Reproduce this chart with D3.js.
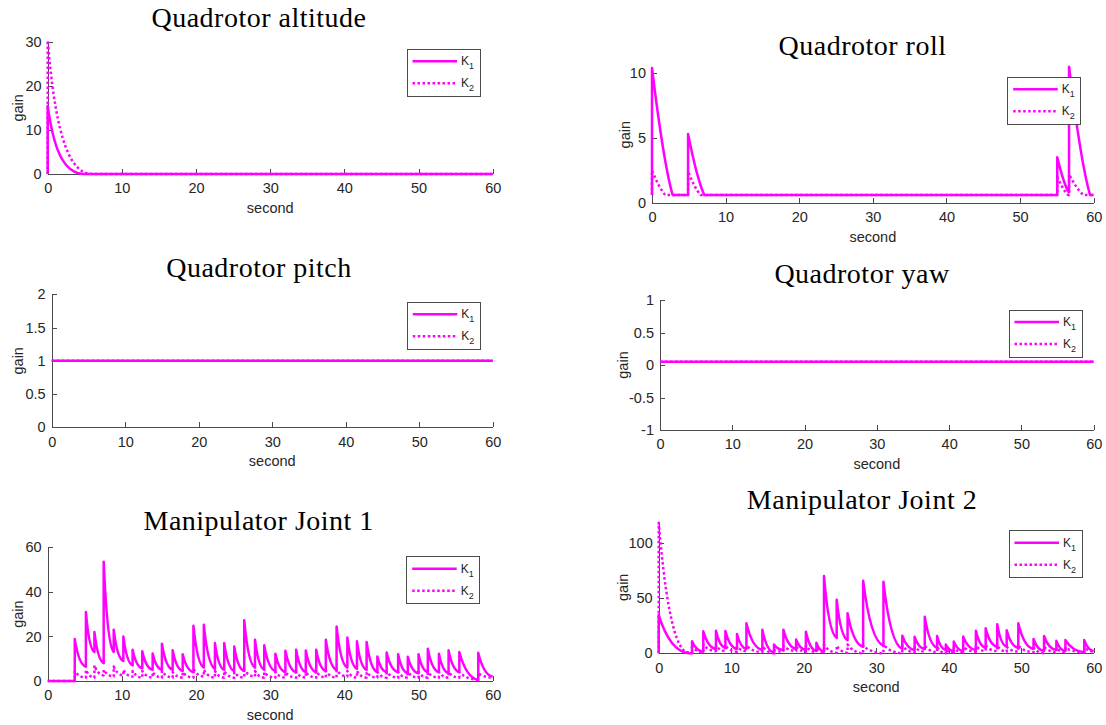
<!DOCTYPE html>
<html>
<head>
<meta charset="utf-8">
<script src="https://cdn.jsdelivr.net/npm/d3@7"></script>
<style>
  body { margin: 0; background: #fff; }
  svg { display: block; }
  .axis path, .axis line { stroke: #4a4a4a; stroke-width: 1; shape-rendering: crispEdges; }
  .axis text { font-family: "Liberation Sans", Arial, sans-serif; font-size: 14.5px; fill: #262626; }
  .lbl { font-family: "Liberation Sans", Arial, sans-serif; font-size: 14.5px; fill: #262626; }
  .ttl { font-family: "Liberation Serif", "DejaVu Serif", serif; font-size: 28px; letter-spacing: 0.5px; fill: #000; }
  .leg { font-family: "Liberation Sans", Arial, sans-serif; font-size: 12px; fill: #262626; }
</style>
</head>
<body>
<div id="chart"></div>
<script>
// 6 个子图: 自适应增益 K1(实线) / K2(点线), 每段 = 跳变到峰值 + 衰减到谷值
const MAGENTA = "#ff00ff";
const xTicks = [0, 10, 20, 30, 40, 50, 60];

// Quadrotor altitude
const altTimes = [0];
const altK1Peak = [15.5], altK1Low = [0], altK1End = [5];
const altK2Peak = [30.3], altK2Low = [0], altK2End = [6];

// Quadrotor roll
const rollTimes = [0, 4.9, 55.05, 56.65];
const rollK1Peak = [10.4, 5.3, 3.5, 10.5], rollK1Low = [0.6, 0.6, 0.8, 0.6], rollK1End = [2.8, 7.1, 56.6, 59.5];
const rollK2Peak = [2.5, 2.4, 2.0, 2.2], rollK2Low = [0.6, 0.6, 0.6, 0.6], rollK2End = [1.8, 6.6, 56.5, 58.6];

// Quadrotor pitch / yaw (constant)
const pitchLevel = [1, 1];
const yawLevel = [0.05, 0.05];

// Manipulator joint 1
const j1Times = [3.65, 5.15, 6.3, 7.55, 8.9, 10.2, 11.45, 12.75, 14.15, 15.4, 16.85, 18.2, 19.65, 21.05, 22.55, 23.8, 25.15, 26.5, 27.95, 29.2,
  30.7, 32.05, 33.5, 34.8, 36.2, 37.5, 38.95, 40.4, 41.7, 43.0, 44.45, 45.7, 47.25, 48.55, 50.0, 51.25, 52.75, 54.05, 55.5, 58.05];
const j1K1Peak = [18.8, 31, 22, 53.5, 23, 20, 14, 13.3, 12.3, 16.7, 13.8, 12, 24.8, 25.2, 17, 17, 15.5, 27.3, 18.5, 16,
  12.2, 13.6, 14, 13.7, 14, 18.5, 24.5, 19.5, 17.8, 17.5, 11, 12.8, 12, 10.9, 12, 14.5, 12.2, 13.8, 13, 12.7];
const j1K1Low = [6.4, 13, 8, 13, 9, 7, 5.7, 5, 5, 5, 4.5, 4, 6, 5.5, 5, 4.5, 4.5, 6, 5, 4.5,
  4, 4, 4, 4, 4.5, 5, 6, 5.5, 5, 4, 4, 4, 3.5, 3.5, 4, 4, 3.5, 4, 0.5, 2];
const j1K2Peak = [4.5, 5, 7, 5, 6.5, 5, 4.5, 4.5, 4, 4.5, 4, 4, 5.5, 5, 4.5, 4.5, 4, 5, 4.5, 4,
  4, 4, 4, 4, 4.5, 4.5, 5, 4.5, 4.5, 4, 4, 4, 4, 4, 4, 4, 4, 4, 4, 3.5];
const j1K2Low = [1.5, 1.5, 2.5, 2, 2.5, 2, 1.5, 1.5, 1.5, 1.5, 1.5, 1.5, 2, 1.5, 1.5, 1.5, 1.5, 2, 1.5, 1.5,
  1.5, 1.5, 1.5, 1.5, 1.5, 1.5, 2, 1.5, 1.5, 1.5, 1.5, 1.5, 1.5, 1.5, 1.5, 1.5, 1.5, 1.5, 0.5, 1.5];

// Manipulator joint 2
const j2Times = [0, 4.6, 6.15, 7.9, 9.2, 10.8, 12.1, 14.3, 15.9, 17.2, 18.95, 20.3, 21.75, 22.8, 24.55, 26.05, 28.2, 31.0,
  33.6, 35.3, 36.7, 38.4, 39.6, 40.7, 42.0, 43.75, 45.1, 46.7, 48.0, 49.6, 51.7, 53.15, 54.85, 56.1, 58.7];
const j2K1Peak = [35, 11, 20, 20.5, 20.2, 17.5, 27.3, 21.5, 8, 21.5, 12.5, 19.7, 9.7, 70.3, 48.7, 36.4, 66, 65,
  16, 15, 33.3, 15.7, 8, 10.8, 15.2, 20.5, 22.7, 26.5, 21, 27.3, 13, 15.7, 11.3, 12, 12];
const j2K1Low = [0, 1.5, 4, 5, 4, 4, 3, 0.5, 3, 4, 3, 2, 1.5, 14, 12, 6, 7, 4,
  3, 4, 5, 3, 2, 2, 3, 5, 6, 6, 5, 4, 2, 3, 2, 1, 2];
const j2K1End = [4.1];
const j2K2Peak = [118.7, 6, 8, 7, 7, 6, 7, 7, 3, 7, 6, 7, 5, 8, 7, 8, 7, 8,
  7, 6, 7, 6, 3, 5, 6, 7, 7, 7, 6, 7, 5, 6, 5, 5, 6];
const j2K2Low = [1, 1, 2, 2, 1.5, 2, 1, 0, 1.5, 2, 1.5, 1, 1, 0.5, 0.5, 0, 0, 0,
  1, 1.5, 1, 0, 1, 1, 1.5, 2, 2, 1.5, 1.5, 1, 0, 1, 1, 1, 1.5];
const j2K2End = [3.8];

// bend: 衰减段贝塞尔控制点 (相对段宽/段高), 只影响曲线形状
const FAST = [0.15, 0.4, 0.4, 0], MID = [0.2, 0.5, 0.5, 0.05], SLOW = [0.3, 0.6, 0.65, 0.2];

const panels = [
  { title: "Quadrotor altitude", x0: 47.7, x1: 492.7, y0: 174, y1: 41.7, yDomain: [0, 30], yTicks: [0, 10, 20, 30],
    titleX: 259, titleY: 26.7, gainX: 18, legend: [407, 49.3], bend: FAST,
    series: [{ start: 0, times: altTimes, peaks: altK1Peak, lows: altK1Low, ends: altK1End },
             { start: 0, times: altTimes, peaks: altK2Peak, lows: altK2Low, ends: altK2End }] },
  { title: "Quadrotor roll", x0: 652, x1: 1093.7, y0: 202.7, y1: 66.7, yDomain: [0, 10.5], yTicks: [0, 5, 10],
    titleX: 862.5, titleY: 55, gainX: 625, legend: [1007.7, 77.3], bend: SLOW,
    series: [{ start: 0.6, times: rollTimes, peaks: rollK1Peak, lows: rollK1Low, ends: rollK1End },
             { start: 0.6, times: rollTimes, peaks: rollK2Peak, lows: rollK2Low, ends: rollK2End }] },
  { title: "Quadrotor pitch", x0: 51.7, x1: 492.7, y0: 427.3, y1: 294.3, yDomain: [0, 2], yTicks: [0, 0.5, 1, 1.5, 2],
    titleX: 259, titleY: 276.7, gainX: 18, legend: [407.3, 302.3], bend: MID,
    series: [{ start: pitchLevel[0], times: [] }, { start: pitchLevel[1], times: [] }] },
  { title: "Quadrotor yaw", x0: 660, x1: 1093.7, y0: 430, y1: 300, yDomain: [-1, 1], yTicks: [-1, -0.5, 0, 0.5, 1],
    titleX: 862, titleY: 283.3, gainX: 623.3, legend: [1009, 310], bend: MID,
    series: [{ start: yawLevel[0], times: [] }, { start: yawLevel[1], times: [] }] },
  { title: "Manipulator Joint 1", x0: 47.7, x1: 492.7, y0: 681, y1: 547.3, yDomain: [0, 60], yTicks: [0, 20, 40, 60],
    titleX: 258.7, titleY: 530, gainX: 18, legend: [406.7, 556.7], bend: MID,
    series: [{ start: 0, times: j1Times, peaks: j1K1Peak, lows: j1K1Low },
             { start: 0, times: j1Times, peaks: j1K2Peak, lows: j1K2Low }] },
  { title: "Manipulator Joint 2", x0: 658.7, x1: 1093.7, y0: 653.3, y1: 521.3, yDomain: [0, 120], yTicks: [0, 50, 100],
    titleX: 862, titleY: 509.3, gainX: 623.3, legend: [1009, 530.7], bend: MID,
    series: [{ start: 0, times: j2Times, peaks: j2K1Peak, lows: j2K1Low, ends: j2K1End },
             { start: 0, times: j2Times, peaks: j2K2Peak, lows: j2K2Low, ends: j2K2End }] },
];

const svg = d3.select("#chart").append("svg").attr("width", 1106).attr("height", 725);
svg.append("rect").attr("width", 1106).attr("height", 725).attr("fill", "#fff");

// 跳变 + 指数状衰减 (三次贝塞尔近似)
function gainPath(s, x, y, bend) {
  const [c1x, c1y, c2x, c2y] = bend;
  const p = d3.path();
  let v = s.start;
  p.moveTo(x(0), y(v));
  const n = s.times.length;
  s.times.forEach((t, i) => {
    p.lineTo(x(t), y(v));
    p.lineTo(x(t), y(s.peaks[i]));
    const tEnd = s.ends && s.ends[i] != null ? s.ends[i] : (i + 1 < n ? s.times[i + 1] : 60);
    const xa = x(t), xb = x(tEnd), ya = y(s.peaks[i]), yb = y(s.lows[i]);
    p.bezierCurveTo(xa + c1x * (xb - xa), yb + c1y * (ya - yb), xa + c2x * (xb - xa), yb + c2y * (ya - yb), xb, yb);
    v = s.lows[i];
  });
  p.lineTo(x(60), y(v));
  return p.toString();
}

panels.forEach((pn) => {
  const x = d3.scaleLinear().domain([0, 60]).range([pn.x0, pn.x1]);
  const y = d3.scaleLinear().domain(pn.yDomain).range([pn.y0, pn.y1]);
  const g = svg.append("g");

  g.append("g").attr("class", "axis").attr("transform", `translate(0,${pn.y0})`)
    .call(d3.axisBottom(x).tickValues(xTicks).tickSizeInner(-5).tickSizeOuter(0).tickPadding(9).tickFormat((d) => String(d)));
  g.append("g").attr("class", "axis").attr("transform", `translate(${pn.x0},0)`)
    .call(d3.axisLeft(y).tickValues(pn.yTicks).tickSizeInner(-5).tickSizeOuter(0).tickPadding(6).tickFormat((d) => String(d)));

  g.append("text").attr("class", "ttl").attr("x", pn.titleX).attr("y", pn.titleY)
    .attr("text-anchor", "middle").text(pn.title);
  g.append("text").attr("class", "lbl").attr("x", (pn.x0 + pn.x1) / 2).attr("y", pn.y0 + 39)
    .attr("text-anchor", "middle").text("second");
  g.append("text").attr("class", "lbl")
    .attr("transform", `translate(${pn.gainX},${(pn.y0 + pn.y1) / 2}) rotate(-90)`)
    .attr("text-anchor", "middle").attr("dy", "0.35em").text("gain");

  pn.series.forEach((s, k) => {
    g.append("path").attr("d", gainPath(s, x, y, pn.bend)).attr("fill", "none")
      .attr("stroke", MAGENTA).attr("stroke-width", 2.5).attr("stroke-linejoin", "round")
      .attr("stroke-dasharray", k === 1 ? "2.5,2.5" : null);
  });

  // legend
  const [lx, ly] = pn.legend;
  const lg = g.append("g").attr("transform", `translate(${lx},${ly})`);
  lg.append("rect").attr("width", 73).attr("height", 47).attr("fill", "#fff")
    .attr("stroke", "#4a4a4a").attr("stroke-width", 1).attr("shape-rendering", "crispEdges");
  ["1", "2"].forEach((sub, k) => {
    const yy = 12 + k * 22;
    lg.append("line").attr("x1", 5.5).attr("x2", 50).attr("y1", yy).attr("y2", yy)
      .attr("stroke", MAGENTA).attr("stroke-width", 2.5)
      .attr("stroke-dasharray", k === 1 ? "2.5,2.5" : null);
    const t = lg.append("text").attr("class", "leg").attr("x", 54).attr("y", yy + 4).text("K");
    t.append("tspan").attr("dy", 4).attr("font-size", "9px").text(sub);
  });
});
</script>
</body>
</html>
